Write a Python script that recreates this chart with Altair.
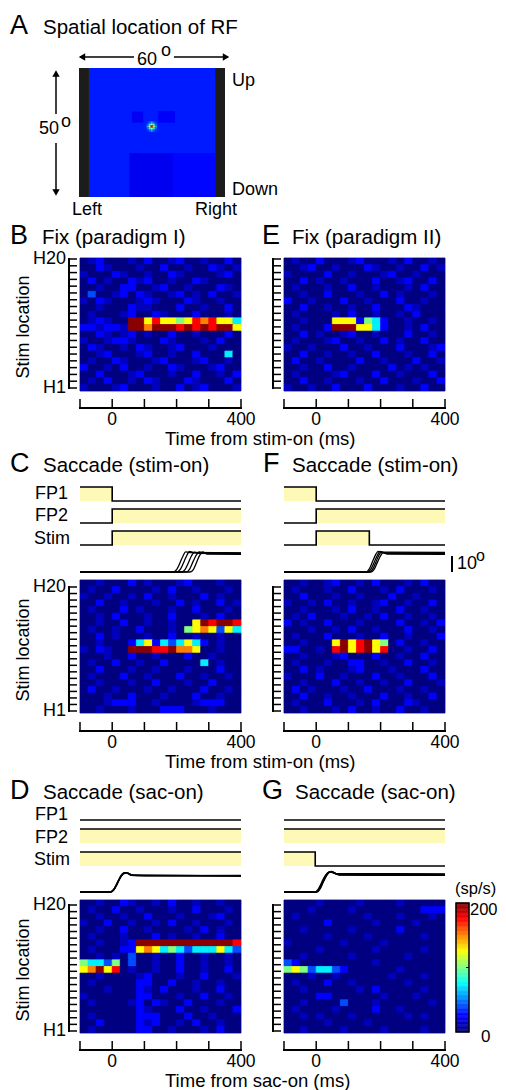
import altair as alt
import pandas as pd

FONT = "Liberation Sans"
OX, OY = 8, 8
W, H = 490, 1082
YELLOW = "#fff9b8"

# ---------------- data ----------------
LEVELS = [0, 12, 25, 40, 72, 100, 125, 150, 175, 198]  # sp/s per digit level
BIN_EDGES = [-100, -75, -50, -25, 0, 25, 50, 75, 100, 125, 150, 175, 200,
             225, 250, 275, 300, 325, 350, 375, 400]
TIME_TICKS = [-100, 0, 100, 200, 300, 400]
TIME_LABELS = [(0, "0"), (400, "400")]
ROW_IDS = list(range(20))
ROW_END_LABELS = [(0, "H20"), (19, "H1")]

HEAT_B = [
    "01200 01020 01200 10020", "00210 00100 20010 02101", "10002 10010 02100 00120",
    "02010 02120 01002 10000", "00100 22001 20010 00210", "03001 20210 01201 02001",
    "10210 00121 00021 00100", "00100 02110 00200 10020", "01000 12002 10002 00010",
    "01210 09968 66568 78664", "22122 19979 99898 98996", "00210 12010 02001 00020",
    "10012 21000 21000 10200", "02100 10210 01200 01000", "00120 00120 01002 00040",
    "01002 10001 20001 20010", "20010 20010 02100 01200", "00200 01200 01002 00102",
    "01020 01021 00021 00020", "10001 20001 00201 20001"]
HEAT_E = [
    "01002 00012 00010 20010", "00120 01000 21001 00201", "10000 20010 00120 01000",
    "00201 00100 02001 20020", "01000 10020 01000 10200", "00100 20001 00201 00010",
    "20010 00200 10002 00100", "00200 10010 02000 21000", "01000 01020 01001 02000",
    "00100 06662 54200 10010", "01000 29996 64200 10200", "00201 00120 01000 20010",
    "01000 12001 00201 00200", "10010 00200 10002 00012", "00200 10010 02000 10020",
    "02001 00002 00100 02001", "00100 20010 00020 10100", "01000 01200 02001 00020",
    "00200 10001 00200 01002", "10010 02000 20001 00200"]
HEAT_C = [
    "00100 02010 00120 00100", "01002 00001 02001 00010", "10010 01020 01000 20100",
    "00200 10001 00201 00201", "01000 20100 01002 00010", "00102 00010 02000 10200",
    "00100 20010 01006 98998", "01001 00200 01056 76364", "00201 00010 02001 00100",
    "00100 02462 43464 20100", "10210 09998 89776 00100", "00010 02001 00020 01000",
    "01002 00100 20000 40100", "00200 01001 00010 00200", "01000 20010 00200 10010",
    "00100 01002 00010 02000", "02001 00010 01000 20010", "00010 02000 10002 00100",
    "00012 22001 00001 22200", "00100 01000 22200 01000"]
HEAT_F = [
    "00100 12001 02000 10200", "01000 10020 00102 00010", "00200 01001 00020 01000",
    "10010 20010 01200 10020", "00100 01020 01002 00100", "01020 00100 10200 10010",
    "20100 20001 00002 00102", "00010 01020 01000 20010", "01000 20001 00200 10002",
    "00100 06968 96502 00100", "22001 08968 96800 10020", "00100 01200 02001 00200",
    "01000 10022 00100 20010", "00201 00012 00010 00200", "10002 00100 02001 00020",
    "00100 02001 00100 20001", "02010 00100 20001 00100", "00200 10010 00200 10020",
    "01000 20001 02000 21000", "00100 01020 01002 00100"]
HEAT_D = [
    "00100 21001 02001 00100", "01002 00100 01002 00010", "00100 10020 00100 01200",
    "10020 01001 02001 00010", "00100 20010 00010 20100", "01000 10002 01001 00200",
    "00100 12999 99999 99998", "01000 22676 45434 44643", "00101 03001 00200 10010",
    "54435 03001 00200 10010", "67968 01001 00200 10020", "00100 00120 00100 20001",
    "01000 00220 02001 00100", "00010 00210 20001 00200", "10000 00220 00100 20010",
    "01000 01202 10020 00100", "00000 00210 00200 10002", "01000 00222 00020 01000",
    "00200 00212 00102 00100", "01000 00220 01000 10200"]
HEAT_G = [
    "00001 00001 00001 00000", "00010 00010 00000 00222", "01000 00000 10001 00010",
    "00000 20000 01000 01000", "00100 00010 00002 00000", "00000 10000 10000 00100",
    "10000 00100 00100 00000", "00001 00000 01000 00100", "00100 00010 00000 10000",
    "32000 00000 01000 00000", "56534 43200 00001 00000", "00010 01000 00010 00100",
    "01000 20010 00000 10000", "00100 00001 02000 00100", "00002 20000 00100 01000",
    "00100 00300 01000 00010", "01000 01000 02001 00000", "00101 00010 00000 10100",
    "00000 10000 10000 00000", "00100 00100 00100 00100"]

JET_STOPS = [0, 25, 50, 75, 100, 125, 150, 175, 200]
JET_COLORS = ["#000080", "#0000ff", "#0080ff", "#00ffff", "#80ff80",
              "#ffff00", "#ff8000", "#ff0000", "#800000"]
CB_STEPS = list(range(0, 200, 2))

# RF map (degrees): background value, patches (x1, x2, y1, y2, value), spot grid
RF_BG = 30
RF_PATCHES = [(-9.3, 8.6, -25.0, -7.9, 22), (8.6, 25.9, -25.0, -7.9, 26),
              (-8.3, -3.6, 3.8, 8.1, 23), (2.5, 9.5, 3.8, 8.3, 24)]
RF_SPOT = [[34, 45, 60, 45, 34],
           [45, 80, 120, 80, 45],
           [60, 120, 190, 120, 60],
           [45, 80, 120, 80, 45],
           [34, 45, 60, 45, 34]]
RF_SPOT_CENTER = (-0.1, 2.3)
RF_SPOT_CELL = (0.85, 0.8)
RF_EDGES = [(-30.0, -25.9), (25.9, 30.0)]

# task event traces (time, level), step-after
SIG_C = [[(-100, 1), (0, 0), (400, 0)], [(-100, 0), (0, 1), (400, 1)], [(-100, 0), (0, 1), (400, 1)]]
SIG_F = [[(-100, 1), (0, 0), (400, 0)], [(-100, 0), (0, 1), (400, 1)],
         [(-100, 0), (0, 1), (165, 0), (400, 0)]]
SIG_D = [[(-100, 0), (400, 0)], [(-100, 1), (400, 1)], [(-100, 1), (400, 1)]]
SIG_G = [[(-100, 0), (400, 0)], [(-100, 1), (400, 1)], [(-100, 1), (-3, 0), (400, 0)]]

# eye position traces (time ms, position deg)
EYE_C = [
    [(-100, 0.0), (190, 0.0), (200, 1.5), (210, 5.5), (220, 10.0), (228, 12.6), (240, 12.2), (400, 12.0)],
    [(-100, 0.1), (202, 0.1), (212, 1.8), (222, 6.0), (232, 10.5), (240, 12.8), (255, 12.0), (400, 11.8)],
    [(-100, 0.0), (216, 0.0), (226, 1.5), (236, 5.5), (246, 10.0), (255, 12.4), (270, 11.6), (400, 11.4)],
    [(-100, 0.1), (231, 0.1), (241, 2.0), (251, 6.5), (261, 10.5), (270, 12.5), (285, 11.9), (400, 11.7)],
    [(-100, 0.0), (242, 0.0), (252, 1.5), (262, 6.0), (272, 10.5), (281, 12.6), (295, 11.2), (400, 11.0)]]
EYE_F = [
    [(-100, 0.0), (155, 0.0), (165, 2.0), (175, 6.5), (185, 11.0), (192, 12.9), (205, 12.4), (400, 12.3)],
    [(-100, 0.0), (160, 0.0), (170, 1.8), (180, 6.0), (190, 10.5), (198, 12.8), (210, 12.0), (400, 11.9)],
    [(-100, 0.0), (165, 0.0), (175, 1.6), (185, 6.0), (195, 10.6), (203, 12.5), (215, 11.6), (400, 11.5)],
    [(-100, 0.0), (170, 0.0), (180, 1.6), (190, 6.0), (200, 10.2), (208, 12.2), (220, 11.2), (400, 11.0)]]
EYE_D = [
    [(-100, 0.0), (-5, 0.0), (5, 1.5), (15, 5.0), (25, 9.0), (35, 11.5), (45, 12.0), (60, 10.6), (100, 10.2), (400, 10.3)],
    [(-100, 0.2), (-3, 0.2), (7, 2.0), (17, 6.0), (27, 10.0), (37, 12.0), (48, 11.8), (65, 10.4), (400, 10.1)],
    [(-100, -0.1), (-6, -0.1), (4, 1.2), (14, 4.8), (24, 8.8), (34, 11.4), (44, 11.9), (60, 10.5), (400, 10.0)]]
EYE_G = [
    [(-100, 0.0), (-3, 0.0), (8, 1.5), (18, 5.5), (28, 9.5), (38, 12.0), (48, 12.8), (65, 11.2), (400, 11.0)],
    [(-100, 0.1), (0, 0.1), (10, 2.0), (20, 6.0), (30, 10.0), (40, 12.4), (50, 12.4), (70, 10.8), (400, 10.5)],
    [(-100, -0.1), (-5, -0.1), (5, 1.3), (15, 5.0), (25, 9.2), (35, 11.8), (45, 12.6), (62, 11.4), (400, 11.3)],
    [(-100, 0.0), (2, 0.0), (12, 2.0), (22, 6.3), (32, 10.3), (42, 12.5), (52, 12.2), (72, 10.6), (400, 10.4)]]

# ---------------- layout (page pixels) ----------------
XL = (80, 241)
XR = (284, 445)
ONE = pd.DataFrame({"o": [0]})
jet = alt.Scale(domain=JET_STOPS, range=JET_COLORS, interpolate="rgb", clamp=True)
LETTER = 27
TITLE = 20.5


def px(x):
    return x - OX


def py(y):
    return y - OY


def tscale(xr):
    return alt.Scale(domain=[-100, 400], range=[px(xr[0]), px(xr[1])], nice=False, zero=False)


def txt(s, x, y, size=18, align="left", baseline="middle", angle=None):
    kw = dict(text=s, font=FONT, fontSize=size, align=align, baseline=baseline, color="black")
    if angle is not None:
        kw["angle"] = angle
    return alt.Chart(ONE).mark_text(**kw).encode(x=alt.value(px(x)), y=alt.value(py(y)))


def hrule(x0, x1, y, w=1.5):
    return alt.Chart(ONE).mark_rule(color="black", strokeWidth=w).encode(
        x=alt.value(px(x0)), x2=alt.value(px(x1)), y=alt.value(py(y)))


def vrule(x, y0, y1, w=1.5):
    return alt.Chart(ONE).mark_rule(color="black", strokeWidth=w).encode(
        x=alt.value(px(x)), y=alt.value(py(y0)), y2=alt.value(py(y1)))


def arrowhead(shape, x, y):
    return alt.Chart(ONE).mark_point(shape=shape, filled=True, size=55, color="black", opacity=1).encode(
        x=alt.value(px(x)), y=alt.value(py(y)))


def heat(rows, xr, yr):
    recs = []
    for r, s in enumerate(rows):
        s = s.replace(" ", "")
        for c, ch in enumerate(s[:20]):
            recs.append({"t0": BIN_EDGES[c], "t1": BIN_EDGES[c + 1], "r0": r, "r1": r + 1,
                         "v": LEVELS[int(ch)]})
    ys = alt.Scale(domain=[0, 20], range=[py(yr[0]), py(yr[1])], nice=False, zero=False)
    back = alt.Chart(pd.DataFrame({"t0": [-100], "t1": [400], "r0": [0], "r1": [20]})).mark_rect(
        color=JET_COLORS[0]).encode(
        x=alt.X("t0:Q", scale=tscale(xr), axis=None), x2="t1:Q",
        y=alt.Y("r0:Q", scale=ys, axis=None), y2="r1:Q")
    cells = alt.Chart(pd.DataFrame(recs)).mark_rect(strokeWidth=0.8).encode(
        x=alt.X("t0:Q", scale=tscale(xr), axis=None), x2="t1:Q",
        y=alt.Y("r0:Q", scale=ys, axis=None), y2="r1:Q",
        color=alt.Color("v:Q", scale=jet, legend=None),
        stroke=alt.Stroke("v:Q", scale=jet, legend=None))
    return [back, cells]


def yticks(xline, ytop, ybot, labels):
    ys = alt.Scale(domain=[0, 19], range=[py(ytop), py(ybot)], nice=False, zero=False)
    L = [alt.Chart(pd.DataFrame({"k": ROW_IDS})).mark_rule(color="black", strokeWidth=1.5).encode(
        y=alt.Y("k:Q", scale=ys, axis=None), x=alt.value(px(xline)), x2=alt.value(px(xline + 8))),
        vrule(xline, ytop - 1, ybot + 1, 2)]
    if labels:
        dl = pd.DataFrame(ROW_END_LABELS, columns=["k", "lab"])
        L.append(alt.Chart(dl).mark_text(font=FONT, fontSize=18, align="right", baseline="middle",
                                         color="black").encode(
            y=alt.Y("k:Q", scale=ys, axis=None), x=alt.value(px(xline - 3)), text="lab:N"))
    return L


def taxis(xr, yline):
    L = [alt.Chart(pd.DataFrame({"t": TIME_TICKS})).mark_rule(color="black", strokeWidth=1.5).encode(
        x=alt.X("t:Q", scale=tscale(xr), axis=None), y=alt.value(py(yline - 9)), y2=alt.value(py(yline))),
        hrule(xr[0] - 1, xr[1] + 1, yline, 2)]
    dl = pd.DataFrame(TIME_LABELS, columns=["t", "lab"])
    L.append(alt.Chart(dl).mark_text(font=FONT, fontSize=17.5, align="center", baseline="middle",
                                     color="black").encode(
        x=alt.X("t:Q", scale=tscale(xr), axis=None), y=alt.value(py(yline + 12)), text="lab:N"))
    return L


def signal(steps, xr, yhigh, ylow):
    df = pd.DataFrame(steps, columns=["t", "lev"])
    ys = alt.Scale(domain=[0, 1], range=[py(ylow), py(yhigh)], nice=False, zero=False)
    area = alt.Chart(df).mark_area(interpolate="step-after", color=YELLOW, opacity=1).encode(
        x=alt.X("t:Q", scale=tscale(xr), axis=None), y=alt.Y("lev:Q", scale=ys, axis=None),
        y2=alt.value(py(ylow)))
    line = alt.Chart(df).mark_line(interpolate="step-after", color="black", strokeWidth=1.6).encode(
        x=alt.X("t:Q", scale=tscale(xr), axis=None), y=alt.Y("lev:Q", scale=ys, axis=None))
    return [area, line]


def eye(traces, xr, base, w=1.3):
    recs = [{"id": i, "j": j, "t": t, "p": p}
            for i, tr in enumerate(traces) for j, (t, p) in enumerate(tr)]
    ys = alt.Scale(domain=[0, 10], range=[py(base), py(base - 16)], nice=False, zero=False)
    return alt.Chart(pd.DataFrame(recs)).mark_line(interpolate="monotone", color="black",
                                                   strokeWidth=w).encode(
        x=alt.X("t:Q", scale=tscale(xr), axis=None), y=alt.Y("p:Q", scale=ys, axis=None),
        detail="id:N", order="j:Q")


def rf_layers():
    xs = alt.Scale(domain=[-30, 30], range=[px(79), px(225)], nice=False, zero=False)
    ys = alt.Scale(domain=[-25, 25], range=[py(197), py(68)], nice=False, zero=False)
    recs = [{"x1": -25.9, "x2": 25.9, "y1": -25.0, "y2": 25.0, "v": RF_BG}]
    for (a, b, c, d, v) in RF_PATCHES:
        recs.append({"x1": a, "x2": b, "y1": c, "y2": d, "v": v})
    cx, cy = RF_SPOT_CENTER
    dx, dy = RF_SPOT_CELL
    n = len(RF_SPOT)
    for i, row in enumerate(RF_SPOT):
        for j, v in enumerate(row):
            x1 = cx + (j - n / 2) * dx
            y1 = cy + (n / 2 - i - 1) * dy
            recs.append({"x1": x1, "x2": x1 + dx, "y1": y1, "y2": y1 + dy, "v": v})
    img = alt.Chart(pd.DataFrame(recs)).mark_rect(strokeWidth=0).encode(
        x=alt.X("x1:Q", scale=xs, axis=None), x2="x2:Q",
        y=alt.Y("y1:Q", scale=ys, axis=None), y2="y2:Q",
        color=alt.Color("v:Q", scale=jet, legend=None))
    edges = alt.Chart(pd.DataFrame(RF_EDGES, columns=["x1", "x2"]).assign(y1=-25.0, y2=25.0)).mark_rect(
        color="#1c1c1c").encode(
        x=alt.X("x1:Q", scale=xs, axis=None), x2="x2:Q",
        y=alt.Y("y1:Q", scale=ys, axis=None), y2="y2:Q")
    return [img, edges]


def colorbar():
    df = pd.DataFrame({"v": CB_STEPS})
    df["v2"] = df["v"] + 2
    ys = alt.Scale(domain=[0, 200], range=[py(1032), py(903)], nice=False, zero=False)
    bar = alt.Chart(df).mark_rect(strokeWidth=0.5).encode(
        y=alt.Y("v:Q", scale=ys, axis=None), y2="v2:Q",
        x=alt.value(px(456)), x2=alt.value(px(469)),
        color=alt.Color("v:Q", scale=jet, legend=None),
        stroke=alt.Stroke("v:Q", scale=jet, legend=None))
    border = alt.Chart(ONE).mark_rect(fillOpacity=0, stroke="black", strokeWidth=1.5).encode(
        x=alt.value(px(456)), x2=alt.value(px(469)), y=alt.value(py(903)), y2=alt.value(py(1032)))
    return [bar, border, hrule(466, 469, 967.5, 1)]


layers = []
# ---- Panel A ----
layers += rf_layers()
layers += [hrule(80, 134, 57), hrule(174, 228, 57), arrowhead("triangle-left", 82, 57),
           arrowhead("triangle-right", 226, 57),
           vrule(56, 72, 114), vrule(56, 143, 194), arrowhead("triangle-up", 56, 73.5),
           arrowhead("triangle-down", 56, 192.5)]
layers += [txt("A", 10, 34, LETTER, baseline="alphabetic"),
           txt("Spatial location of RF", 43, 34, TITLE, baseline="alphabetic"),
           txt("60", 147, 60, 18, align="center"), txt("o", 166, 51, 18, align="center"),
           txt("50", 49, 129, 18, align="center"), txt("o", 66, 122, 18, align="center"),
           txt("Up", 232, 81), txt("Down", 232, 190),
           txt("Left", 87, 210, align="center"), txt("Right", 216, 210, align="center")]

# ---- heatmaps ----
layers += heat(HEAT_B, XL, (258, 391)) + heat(HEAT_E, XR, (258, 391))
layers += heat(HEAT_C, XL, (580, 713)) + heat(HEAT_F, XR, (580, 713))
layers += heat(HEAT_D, XL, (900, 1033)) + heat(HEAT_G, XR, (900, 1033))
for (yt, yb) in [(259, 388), (587, 711), (905, 1031)]:
    layers += yticks(69, yt, yb, True)
    layers += yticks(273, yt, yb, False)
for yl in [408, 731, 1050]:
    layers += taxis(XL, yl)
    layers += taxis(XR, yl)

# ---- task traces ----
for sigs, xr in [(SIG_C, XL), (SIG_F, XR)]:
    for s, (hi, lo) in zip(sigs, [(487, 501), (509, 523), (531, 545)]):
        layers += signal(s, xr, hi, lo)
for sigs, xr in [(SIG_D, XL), (SIG_G, XR)]:
    for s, (hi, lo) in zip(sigs, [(806, 820), (829, 843), (852, 866)]):
        layers += signal(s, xr, hi, lo)
layers += [eye(EYE_C, XL, 572), eye(EYE_F, XR, 572), eye(EYE_D, XL, 892, 1.6), eye(EYE_G, XR, 892, 1.5)]
layers += [vrule(452, 556, 572, 2), txt("10", 457, 564), txt("o", 476, 556, 16)]

# ---- colorbar ----
layers += colorbar()
layers += [txt("(sp/s)", 455, 889, 16.5), txt("200", 470, 910, 16.5), txt("0", 481, 1037, 17)]

# ---- panel texts ----
layers += [txt("B", 10, 244, LETTER, baseline="alphabetic"),
           txt("Fix (paradigm I)", 42, 244, TITLE, baseline="alphabetic"),
           txt("E", 262, 244, LETTER, baseline="alphabetic"),
           txt("Fix (paradigm II)", 292, 244, TITLE, baseline="alphabetic"),
           txt("C", 10, 472, LETTER, baseline="alphabetic"),
           txt("Saccade (stim-on)", 43, 472, TITLE, baseline="alphabetic"),
           txt("F", 263, 472, LETTER, baseline="alphabetic"),
           txt("Saccade (stim-on)", 292, 472, TITLE, baseline="alphabetic"),
           txt("D", 10, 799, LETTER, baseline="alphabetic"),
           txt("Saccade (sac-on)", 43, 799, TITLE, baseline="alphabetic"),
           txt("G", 262, 799, LETTER, baseline="alphabetic"),
           txt("Saccade (sac-on)", 295, 799, TITLE, baseline="alphabetic")]
for yc in [327, 650, 970]:
    layers.append(txt("Stim location", 24, yc, 18, align="center", angle=270))
layers += [txt("Time from stim-on (ms)", 165, 439, 18.5), txt("Time from stim-on (ms)", 165, 762, 18.5),
           txt("Time from sac-on (ms)", 165, 1081, 18.5)]
layers += [txt("FP1", 68, 494, align="right"), txt("FP2", 68, 516, align="right"),
           txt("Stim", 70, 539, align="right"),
           txt("FP1", 68, 815, align="right"), txt("FP2", 68, 838, align="right"),
           txt("Stim", 70, 860, align="right")]

chart = alt.layer(*layers).resolve_scale(x="independent", y="independent").properties(
    width=W, height=H, padding=0, autosize=alt.AutoSizeParams(type="none"),
    background="white").configure_view(strokeWidth=0)

chart.save("out.html", embed_options={"renderer": "svg", "actions": False})
